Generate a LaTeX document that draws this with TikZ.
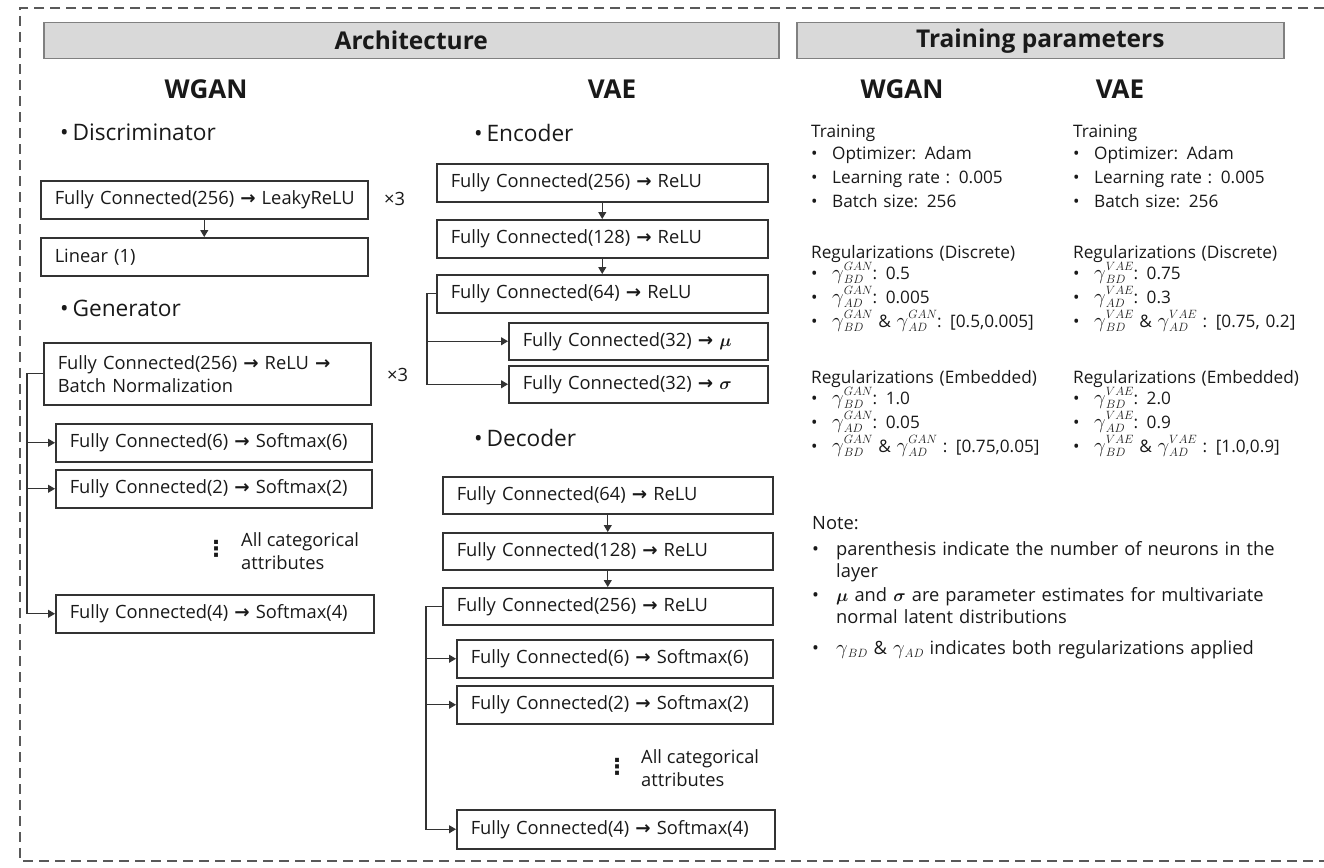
\documentclass[tikz,border=0pt]{standalone}
\usepackage{amsmath}
\usepackage{fontspec}
\setmainfont{Open Sans}
\newfontfamily\arrfont{DejaVu Sans}
\usetikzlibrary{arrows.meta,calc}
\DeclareMathSizes{12.5}{12.5}{9}{7}
\DeclareMathSizes{17.2}{17.2}{12.6}{10}
\DeclareMathSizes{18.3}{18.3}{13}{10}
\DeclareMathSizes{20}{20}{14}{10}
\newcommand\rarr{{\arrfont\bfseries\char"2192}}
\newcommand\bul{\makebox[21pt][l]{•}}
\newcommand\nbul{\makebox[24pt][l]{•}}
\newcommand\fixls{\lineskiplimit=-30pt\relax}
\newcommand\widesp{\spaceskip=0.45em plus 0.1em\relax}
\newcommand\boxsp{\spaceskip=0.38em plus 0.1em\relax}
\newcommand\vdts{{\arrfont\bfseries\fontsize{22}{22}\selectfont\char"22EE}}
\newcommand\smallm{\fontsize{12.5}{12.5}\selectfont}
\newcommand\gm[2]{{\fontsize{20}{20}\selectfont$\gamma$}\mbox{\sbox0{\smallm$#1$}\sbox2{\smallm$#2$}%
  \ifdim\wd0>\wd2 \dimen0=\wd0 \else \dimen0=\wd2 \fi
  \makebox[\dimen0][l]{\rlap{\raisebox{8.5pt}{\usebox0}}\raisebox{-4pt}{\usebox2}}}}
\newcommand\gs[1]{{\fontsize{20}{20}\selectfont$\gamma$}\raisebox{-3.5pt}{\smallm$#1$}}
\begin{document}
\begin{tikzpicture}[x=1pt,y=-1pt,
  every node/.style={text=black!90},
  box/.style={draw=black!80, line width=1.5pt, inner xsep=14pt, inner ysep=0pt, anchor=north west, align=left, font={\fontsize{18.3}{23}\selectfont\boxsp}},
  arr/.style={draw=black!80, line width=1.1pt, -{Triangle[length=7pt,width=8pt]}},
  hdr/.style={draw=black!50, fill=black!15, line width=1.5pt, inner sep=0pt, anchor=north west, font=\fontsize{24.5}{28}\selectfont\bfseries},
  ttl/.style={font=\fontsize{26}{28}\selectfont\bfseries},
  sub/.style={anchor=west, inner sep=0pt, font=\fontsize{22.7}{25}\selectfont},
  txt/.style={anchor=base west, inner sep=0pt, align=left, text width=520pt, font={\fontsize{17.2}{24}\selectfont\fixls\widesp}},
  note/.style={txt, font={\fontsize{18.3}{22}\selectfont\fixls\widesp}},
  small/.style={anchor=west, inner sep=0pt, align=left, font=\fontsize{18.3}{23}\selectfont},
  dts/.style={inner sep=0pt},
]
\useasboundingbox (0,0) rectangle (1324,867);
% frame
\draw[dash pattern=on 10pt off 6pt, line width=1.8pt, black!65] (1324,8) -- (20,8) -- (20,861) -- (1324,861);
% headers
\node[hdr, minimum width=735pt, minimum height=36pt] (harch) at (43,22) {Architecture};
\node[hdr, minimum width=487pt, minimum height=36pt] (htrain) at (796,22) {Training parameters};
\node[ttl] (wgan1) at (206,89) {WGAN};
\node[ttl] (vae1) at (612,89) {VAE};
\node[ttl] (wgan2) at (902,89) {WGAN};
\node[ttl] (vae2) at (1120,89) {VAE};
% WGAN discriminator
\node[sub] (disc) at (60,132) {•\,Discriminator};
\node[box, text width=299pt, minimum height=38pt] (d1) at (40,180) {\mbox{Fully Connected(256) \rarr{} LeakyReLU}};
\node[box, text width=299pt, minimum height=38pt] (d2) at (40,237) {Linear (1)};
\node[small] (x1) at (384,199) {×3};
\draw[arr] (d1) -- (d2);
% generator
\node[sub] (gen) at (60,308) {•\,Generator};
\node[box, text width=299pt, minimum height=62pt] (g) at (43,342) {Fully Connected(256) \rarr{} ReLU \rarr\\Batch Normalization};
\node[small] (x2) at (387,375) {×3};
\node[box, text width=288pt, minimum height=38pt] (gs6) at (55,423) {Fully Connected(6) \rarr{} Softmax(6)};
\node[box, text width=288pt, minimum height=38pt] (gs2) at (55,469) {Fully Connected(2) \rarr{} Softmax(2)};
\node[dts] (gdots) at (216,549) {\vdts};
\node[small] (gcat) at (241,551) {All categorical\\attributes};
\node[box, text width=290pt, minimum height=38pt] (gs4) at (55,594) {Fully Connected(4) \rarr{} Softmax(4)};
\coordinate (gx) at (27,0);
\draw[arr] (g.west) -- (g.west -| gx) |- (gs4.west);
\draw[arr] (gx |- gs6.west) -- (gs6.west);
\draw[arr] (gx |- gs2.west) -- (gs2.west);
% VAE encoder
\node[sub] (enc) at (474,133) {•\,Encoder};
\node[box, text width=303pt, minimum height=38pt] (e1) at (436,163) {Fully Connected(256) \rarr{} ReLU};
\node[box, text width=303pt, minimum height=38pt] (e2) at (436,219) {Fully Connected(128) \rarr{} ReLU};
\node[box, text width=303pt, minimum height=38pt] (e3) at (436,274) {Fully Connected(64) \rarr{} ReLU};
\node[box, text width=231pt, minimum height=37pt] (emu) at (508,322) {Fully Connected(32) \rarr{} $\boldsymbol{\mu}$};
\node[box, text width=231pt, minimum height=37pt] (esig) at (508,365) {Fully Connected(32) \rarr{} $\boldsymbol{\sigma}$};
\draw[arr] (e1) -- (e2);
\draw[arr] (e2) -- (e3);
\coordinate (ex) at (427,0);
\draw[arr] (e3.west) -- (e3.west -| ex) |- (esig.west);
\draw[arr] (ex |- emu.west) -- (emu.west);
% VAE decoder
\node[sub] (dec) at (474,438) {•\,Decoder};
\node[box, text width=302pt, minimum height=37pt] (dd1) at (442,476) {Fully Connected(64) \rarr{} ReLU};
\node[box, text width=302pt, minimum height=37pt] (dd2) at (442,532) {Fully Connected(128) \rarr{} ReLU};
\node[box, text width=302pt, minimum height=37pt] (dd3) at (442,587) {Fully Connected(256) \rarr{} ReLU};
\node[box, text width=288pt, minimum height=38pt] (ds6) at (456,639) {Fully Connected(6) \rarr{} Softmax(6)};
\node[box, text width=288pt, minimum height=38pt] (ds2) at (456,685) {Fully Connected(2) \rarr{} Softmax(2)};
\node[dts] (ddots) at (617,767) {\vdts};
\node[small] (dcat) at (641,768) {All categorical\\attributes};
\node[box, text width=290pt, minimum height=39pt] (ds4) at (456,809) {Fully Connected(4) \rarr{} Softmax(4)};
\draw[arr] (dd1) -- (dd2);
\draw[arr] (dd2) -- (dd3);
\coordinate (dx) at (426,0);
\draw[arr] (dd3.west) -- (dd3.west -| dx) |- (ds4.west);
\draw[arr] (dx |- ds6.west) -- (ds6.west);
\draw[arr] (dx |- ds2.west) -- (ds2.west);
% Training parameters
\node[txt] (tw) at (811,137) {Training\\[-2pt]\bul Optimizer: Adam\\\bul Learning rate : 0.005\\\bul Batch size: 256};
\node[txt] (tv) at (1073,137) {Training\\[-2pt]\bul Optimizer: Adam\\\bul Learning rate : 0.005\\\bul Batch size: 256};
\node[txt] (rdw) at (811,258) {Regularizations (Discrete)\\[-3pt]\bul \gm{GAN}{BD}: 0.5\\\bul \gm{GAN}{AD}: 0.005\\\bul \gm{GAN}{BD} \& \gm{GAN}{AD}: [0.5,0.005]};
\node[txt] (rdv) at (1073,258) {Regularizations (Discrete)\\[-3pt]\bul \gm{VAE}{BD}: 0.75\\\bul \gm{VAE}{AD}: 0.3\\\bul \gm{VAE}{BD} \& \gm{VAE}{AD} : [0.75, 0.2]};
\node[txt] (rew) at (811,383) {Regularizations (Embedded)\\[-3pt]\bul \gm{GAN}{BD}: 1.0\\\bul \gm{GAN}{AD}: 0.05\\\bul \gm{GAN}{BD} \& \gm{GAN}{AD} : [0.75,0.05]};
\node[txt] (rev) at (1073,383) {Regularizations (Embedded)\\[-3pt]\bul \gm{VAE}{BD}: 2.0\\\bul \gm{VAE}{AD}: 0.9\\\bul \gm{VAE}{BD} \& \gm{VAE}{AD} : [1.0,0.9]};
% Note
\node[note] (nh) at (812,529) {Note:};
\node[note] (n1) at (812,555) {\nbul parenthesis indicate the number of neurons in the\\\hspace*{24pt}layer};
\node[note] (n2) at (812,601) {\nbul $\boldsymbol{\mu}$ and $\boldsymbol{\sigma}$ are parameter estimates for multivariate\\\hspace*{24pt}normal latent distributions};
\node[note] (n3) at (812,654) {\nbul \gs{BD} \& \gs{AD} indicates both regularizations applied};
\end{tikzpicture}
\end{document}
